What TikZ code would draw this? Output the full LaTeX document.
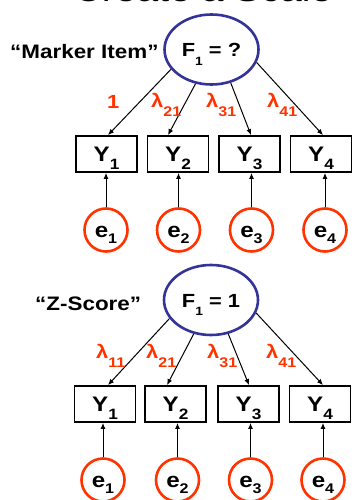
\documentclass[tikz,border=0pt]{standalone}
\usepackage{fontspec}
\setmainfont{Liberation Sans}
\newfontfamily\wideb[FakeStretch=1.15,BoldFont={Liberation Sans Bold}]{Liberation Sans}
\usetikzlibrary{shapes.geometric,arrows.meta}
\definecolor{fblue}{RGB}{51,51,153}
\definecolor{ered}{RGB}{255,51,0}
\newcommand\dn[3]{\raisebox{-#1}{\fontsize{#2}{#2}\selectfont #3}}
\begin{document}
\begin{tikzpicture}[x=1pt,y=-1pt,
  factor/.style={ellipse, draw=fblue, line width=2.6pt, minimum width=94pt, minimum height=70pt,
     inner sep=0pt, text height=17pt, text depth=3pt, font=\wideb\bfseries\fontsize{19}{19}\selectfont},
  ind/.style={rectangle, draw, line width=1.8pt, minimum width=61pt, minimum height=36pt,
     inner sep=0pt, text height=17pt, text depth=3pt, font=\wideb\bfseries\fontsize{21}{21}\selectfont},
  err/.style={circle, draw=ered, line width=2.6pt, minimum size=43pt,
     inner sep=0pt, text height=17pt, text depth=3pt, font=\wideb\bfseries\fontsize{21}{21}\selectfont},
  lab/.style={text=ered, inner sep=0pt, font=\wideb\bfseries\fontsize{19}{19}\selectfont},
  side/.style={inner sep=0pt, font=\wideb\bfseries\fontsize{19.5}{19.5}\selectfont},
  arr/.style={-{Latex[length=6pt,width=5pt]}, line width=1pt}
]
\useasboundingbox (0,0) rectangle (353,500);
\clip (0,0) rectangle (353,500);

% title (cut off at the top)
\node[anchor=base, inner sep=0pt, font=\wideb\fontsize{34}{34}\selectfont] (title) at (203,2) {Create a Scale};

% ---------- top model ----------
\node[factor] (F) at (211.5,49.5) {F\dn{8.6pt}{12}{1} = ?};
\node[side, anchor=base west] (mk) at (10,59) {“Marker Item”};
\foreach \i/\x in {1/106.5,2/178,3/249.5,4/321}{
  \node[ind] (y\i) at (\x,154) {Y\dn{8.7pt}{15}{\i}};
}
\foreach \i/\x in {1/106,2/178.5,3/251.5,4/325}{
  \node[err] (e\i) at (\x,230) {e\dn{6.6pt}{14}{\i}};
  \draw[arr] (e\i.north) -- (e\i.north |- y\i.south);
}
\draw[arr] (F.206) -- ([xshift=1.5pt]y1.north);
\draw[arr] (F.245) -- ([xshift=-10pt]y2.north);
\draw[arr] (F.300) -- ([xshift=1.5pt]y3.north);
\draw[arr] (F.344) -- ([xshift=2pt]y4.north);
\node[lab, anchor=base west] (l11) at (107,109) {1};
\node[lab, anchor=base west] (l21) at (151,108) {λ\dn{9pt}{14}{21}};
\node[lab, anchor=base west] (l31) at (206,108) {λ\dn{9pt}{14}{31}};
\node[lab, anchor=base west] (l41) at (267,108) {λ\dn{9pt}{14}{41}};

% ---------- bottom model ----------
\node[factor] (G) at (211,300) {F\dn{8.6pt}{12}{1} = 1};
\node[side, anchor=base west] (zs) at (35,310) {“Z-Score”};
\foreach \i/\x in {1/105,2/175.5,3/248.5,4/320}{
  \node[ind] (z\i) at (\x,404) {Y\dn{8.7pt}{15}{\i}};
}
\foreach \i/\x in {1/103,2/177.5,3/250.5,4/323}{
  \node[err] (u\i) at (\x,480) {e\dn{6.6pt}{14}{\i}};
  \draw[arr] (u\i.north) -- (u\i.north |- z\i.south);
}
\draw[arr] (G.204) -- ([xshift=3pt]z1.north);
\draw[arr] (G.243) -- ([xshift=-8.5pt]z2.north);
\draw[arr] (G.297) -- ([xshift=0.5pt]z3.north);
\draw[arr] (G.344) -- ([xshift=3pt]z4.north);
\node[lab, anchor=base west] (m11) at (96,358) {λ\dn{9pt}{14}{11}};
\node[lab, anchor=base west] (m21) at (146,358) {λ\dn{9pt}{14}{21}};
\node[lab, anchor=base west] (m31) at (207,358) {λ\dn{9pt}{14}{31}};
\node[lab, anchor=base west] (m41) at (266,358) {λ\dn{9pt}{14}{41}};
\end{tikzpicture}
\end{document}
